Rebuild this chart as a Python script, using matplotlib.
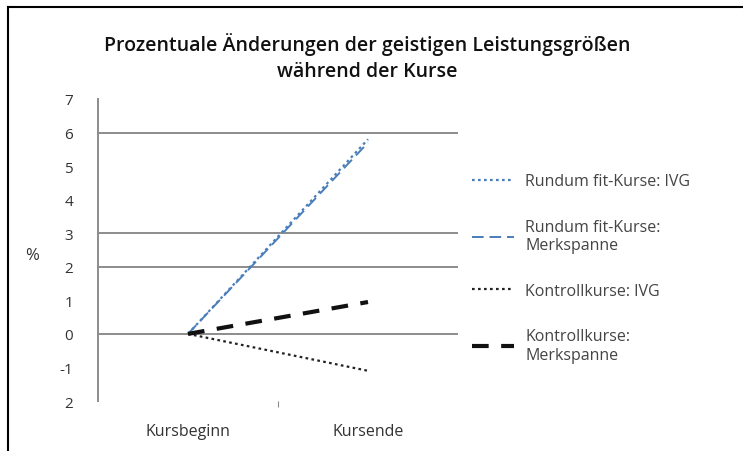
import matplotlib.pyplot as plt
from matplotlib.lines import Line2D

plt.rcParams['font.family'] = ['Open Sans', 'DejaVu Sans']

# data
categories = ['Kursbeginn', 'Kursende']
rundum_ivg = [0, 5.8]
rundum_merk = [0, 5.7]
kontroll_ivg = [0, -1.1]
kontroll_merk = [0, 0.95]
series_labels = ['Rundum fit-Kurse: IVG', 'Rundum fit-Kurse:\nMerkspanne',
                 'Kontrollkurse: IVG', 'Kontrollkurse:\nMerkspanne']
yticks = [-2, -1, 0, 1, 2, 3, 4, 5, 6, 7]
ytick_labels = ['2', '-1', '0', '1', '2', '3', '4', '5', '6', '7']
grid_values = [0, 2, 3, 6]

fig = plt.figure(figsize=(7.43, 4.52), dpi=100)
ax = fig.add_axes([98/743, 1 - 402/452, 360/743, 302/452])

x = range(len(categories))
blue = '#4a7ebb'
l1, = ax.plot(x, rundum_ivg, color=blue, ls=(0, (1.2, 1.5)), lw=1.6)
l2, = ax.plot(x, rundum_merk, color=blue, ls=(0, (6, 3)), lw=1.4)
l3, = ax.plot(x, kontroll_ivg, color='#222222', ls=(0, (1.2, 1.5)), lw=1.6)
l4, = ax.plot(x, kontroll_merk, color='#111111', ls=(0, (4, 3)), lw=3)

for g in grid_values:
    ax.axhline(g, color='#8c8c8c', lw=1.4, zorder=0)

ax.set_xlim(-0.5, 1.5)
ax.set_ylim(-2, 7)
ax.set_yticks(yticks)
ax.set_yticklabels(ytick_labels, fontsize=11, color='#333333')
ax.set_xticks([0.5])
ax.set_xticklabels([''])
ax.tick_params(axis='x', length=4, color='#8c8c8c', direction='out', pad=4)
ax.tick_params(axis='y', length=0, pad=18)
for c, xc in zip(categories, x):
    ax.text(xc, -2.9, c, ha='center', va='center', fontsize=11.5, color='#333333')

for s in ['top', 'right', 'bottom']:
    ax.spines[s].set_visible(False)
ax.spines['left'].set_color('#8c8c8c')
ax.spines['left'].set_linewidth(1.4)

fig.text(32/743, 1 - 256/452, '%', fontsize=12, ha='center', va='center', color='#333333')

fig.suptitle('Prozentuale Änderungen der geistigen Leistungsgrößen\nwährend der Kurse',
             x=367/743, y=1 - 33/452, va='top', fontsize=14, fontweight='semibold',
             linespacing=1.4, color='#111111')

fig.legend([l1, l2, l3, l4], series_labels, loc='upper left',
           bbox_to_anchor=(458/743, 1 - 160/452), frameon=False, fontsize=11.5,
           labelspacing=1.85, handlelength=2.6, handletextpad=0.7,
           labelcolor='#444444')

# outer frame (left and top edges)
fig.add_artist(Line2D([8/743, 8/743], [0, 1 - 8/452], color='black', lw=1.5))
fig.add_artist(Line2D([8/743, 1], [1 - 8/452, 1 - 8/452], color='black', lw=1.5))

fig.savefig('out.png', dpi=100)
